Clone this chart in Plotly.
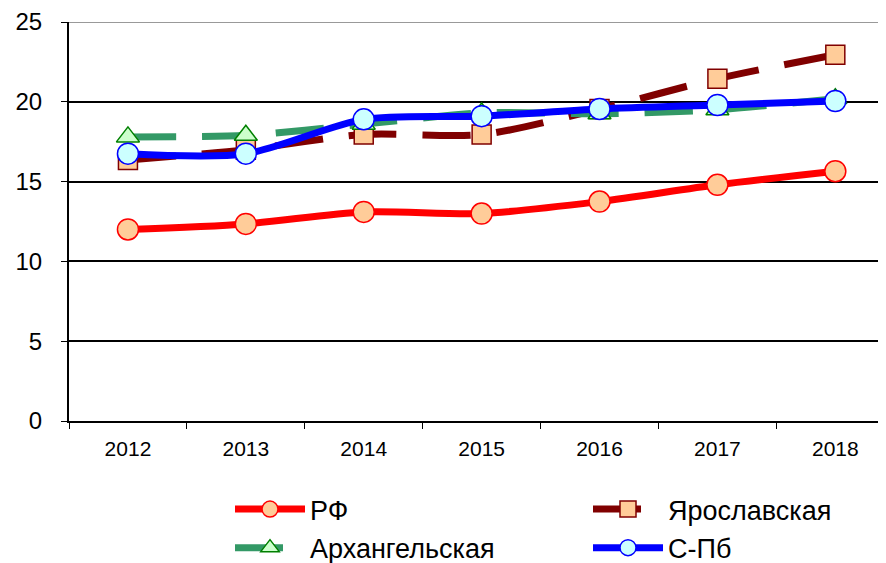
import plotly.graph_objects as go

years = ["2012", "2013", "2014", "2015", "2016", "2017", "2018"]
rf = [12.0, 12.35, 13.1, 13.0, 13.75, 14.8, 15.65]
yar = [16.35, 17.0, 17.95, 17.95, 19.55, 21.45, 22.95]
arh = [17.8, 17.9, 18.6, 19.3, 19.25, 19.5, 20.2]
spb = [16.75, 16.75, 18.9, 19.1, 19.55, 19.8, 20.05]

W, H = 878, 555  # page body has an 8px margin

fig = go.Figure()

fig.add_trace(go.Scatter(
    x=years, y=yar, name="Ярославская", mode="lines+markers",
    line=dict(color="#800000", width=7, dash="48px,26px", shape="spline", smoothing=0.8),
    marker=dict(symbol="square", size=19, color="#FFCC99", line=dict(color="#800000", width=1.5)),
    legend="legend2",
))
fig.add_trace(go.Scatter(
    x=years, y=arh, name="Архангельская", mode="lines+markers",
    line=dict(color="#339966", width=7, dash="48px,26px", shape="spline", smoothing=0.8),
    marker=dict(symbol="triangle-up", size=20, color="#CCFFCC", line=dict(color="#008000", width=1.5)),
    legend="legend3",
))
fig.add_trace(go.Scatter(
    x=years, y=rf, name="РФ", mode="lines+markers",
    line=dict(color="#FF0000", width=7, shape="spline", smoothing=0.8),
    marker=dict(symbol="circle", size=21, color="#FFCC99", line=dict(color="#FF0000", width=1.5)),
    legend="legend",
))
fig.add_trace(go.Scatter(
    x=years, y=spb, name="С-Пб", mode="lines+markers",
    line=dict(color="#0000FF", width=7, shape="spline", smoothing=0.8),
    marker=dict(symbol="circle", size=21, color="#CCFFFF", line=dict(color="#0000FF", width=1.5)),
    legend="legend4",
))

fig.add_shape(type="line", xref="paper", yref="y", x0=0, x1=1, y0=25, y1=25,
              line=dict(color="#999999", width=2), layer="below")

leg_common = dict(orientation="h", xref="container", yref="container",
                  xanchor="left", yanchor="top",
                  font=dict(size=27), itemwidth=70,
                  bgcolor="rgba(0,0,0,0)")
row1, row2 = 0.1405, 0.071
col1, col2 = 222 / W, 580 / W

fig.update_layout(
    width=W, height=H,
    margin=dict(l=61, r=0, t=12, b=142),
    plot_bgcolor="white", paper_bgcolor="white",
    font=dict(family="Liberation Sans, Arial, sans-serif", color="black"),
    showlegend=True,
    legend=dict(x=col1, y=row1, **leg_common),
    legend2=dict(x=col2, y=row1, **leg_common),
    legend3=dict(x=col1, y=row2, **leg_common),
    legend4=dict(x=col2, y=row2, **leg_common),
)
fig.update_xaxes(
    type="category", showline=True, linecolor="black", linewidth=2,
    ticks="outside", tickson="boundaries", ticklen=6, tickcolor="black",
    tickfont=dict(size=21), showgrid=False, range=[-0.5, 6.43],
    ticklabelstandoff=8, tickangle=0,
)
fig.update_yaxes(
    range=[0, 25], dtick=5, showline=True, linecolor="black", linewidth=2,
    ticks="outside", ticklen=6, tickcolor="black", tickfont=dict(size=24),
    showgrid=True, gridcolor="black", gridwidth=1.5, zeroline=False,
    ticklabelstandoff=14, ticklabeloverflow="allow",
)

fig.write_html("out.html")
